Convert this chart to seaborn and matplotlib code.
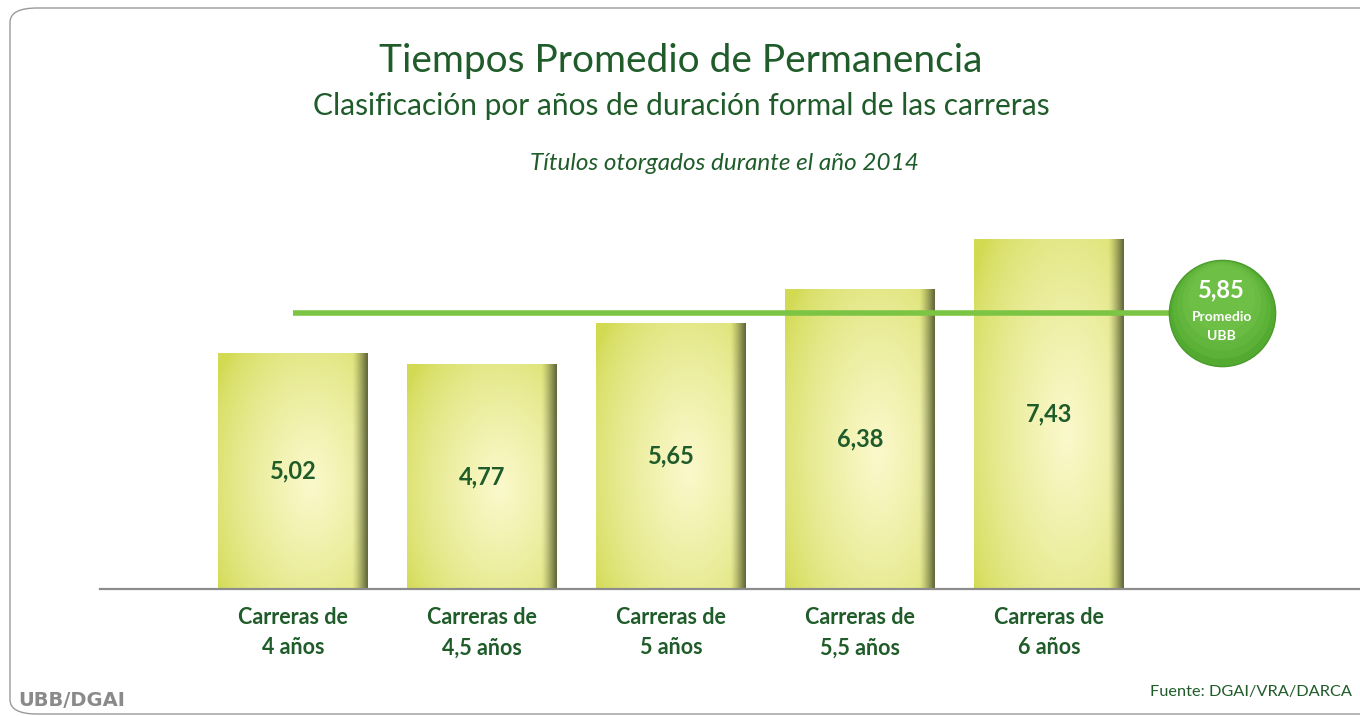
import numpy as np
import pandas as pd
import seaborn as sns
import matplotlib.pyplot as plt
from matplotlib.patches import FancyBboxPatch
from matplotlib.colors import to_rgb

sns.set_theme(style="white")
plt.rcParams['font.family'] = ['Lato', 'DejaVu Sans']

categorias = ["Carreras de\n4 años", "Carreras de\n4,5 años", "Carreras de\n5 años",
              "Carreras de\n5,5 años", "Carreras de\n6 años"]
valores = [5.02, 4.77, 5.65, 6.38, 7.43]
etiquetas = ["5,02", "4,77", "5,65", "6,38", "7,43"]
promedio = 5.85
promedio_txt = "5,85"

VERDE_TXT = '#1f5c2a'
VERDE_LINEA = '#7cc544'
VERDE_BURBUJA = '#53aa30'

df = pd.DataFrame({'cat': categorias, 'val': valores})

fig = plt.figure(figsize=(13.6, 7.16), dpi=100)
fig.patch.set_facecolor('white')

# rounded slide frame
frame = FancyBboxPatch((10 / 1360, 2 / 716), 1.05, 1 - 10 / 716,
                       boxstyle="round,pad=0,rounding_size=0.02",
                       transform=fig.transFigure, facecolor='none',
                       edgecolor='#9a9a9a', linewidth=1.0)
fig.patches.append(frame)

ax = fig.add_axes([100 / 1360, 1 - 589 / 716, 1260 / 1360, 389 / 716])
ax.set_facecolor('none')

sns.barplot(data=df, x='cat', y='val', color='#e4e88a', width=0.79,
            edgecolor='none', ax=ax)

ax.set_xlim(-1.021, 5.646)
ax.set_ylim(0, 8.26)

# gradient fill for each bar
ny, nx = 120, 80
xx, yy = np.meshgrid(np.linspace(0, 1, nx), np.linspace(0, 1, ny))
dark = np.array(to_rgb('#d2da52'))
light = np.array(to_rgb('#fbf9cc'))
shade = np.array(to_rgb('#656b3c'))
d = np.sqrt(((xx - 0.62) / 0.75) ** 2 + ((yy - 0.45) / 0.8) ** 2)
w = np.clip(1 - d, 0, 1) ** 0.7
img = dark[None, None, :] * (1 - w[..., None]) + light[None, None, :] * w[..., None]
s = np.clip((xx - 0.90) / 0.10, 0, 1) ** 1.3
img = img * (1 - s[..., None]) + shade[None, None, :] * s[..., None]

for p in ax.patches:
    x0, y0 = p.get_x(), p.get_y()
    x1, y1 = x0 + p.get_width(), y0 + p.get_height()
    im = ax.imshow(img, extent=[x0, x1, y1, y0], aspect='auto', zorder=2,
                   interpolation='bilinear')
    im.set_clip_path(p)

# value labels
for i, (v, t) in enumerate(zip(valores, etiquetas)):
    ax.text(i, v / 2, t, ha='center', va='center', fontsize=17,
            fontweight='bold', color=VERDE_TXT, zorder=5)

# average line and bubble
bx = 4.915
ax.plot([0, bx], [promedio, promedio], color=VERDE_LINEA, lw=4, zorder=4,
        solid_capstyle='butt', clip_on=False)
ax.scatter([bx], [promedio], s=5850, color=VERDE_BURBUJA, edgecolor='#4a9a2b',
           linewidth=1, zorder=6, clip_on=False)
# soft highlight towards the top of the bubble
for k, (sz, off) in enumerate([(5000, 0.08), (4100, 0.16), (3200, 0.24), (2300, 0.32)]):
    ax.scatter([bx], [promedio + off], s=sz, color='#86d25a', alpha=0.18,
               edgecolor='none', zorder=6, clip_on=False)
ax.text(bx, promedio + 0.5, promedio_txt, ha='center', va='center', fontsize=17,
        fontweight='bold', color='white', zorder=7)
ax.text(bx, promedio - 0.08, "Promedio", ha='center', va='center', fontsize=10,
        fontweight='bold', color='white', zorder=7)
ax.text(bx, promedio - 0.47, "UBB", ha='center', va='center', fontsize=10,
        fontweight='bold', color='white', zorder=7)

# axes styling
for sp in ['top', 'right', 'left']:
    ax.spines[sp].set_visible(False)
ax.spines['bottom'].set_color('#8c8c8c')
ax.spines['bottom'].set_linewidth(1.6)
ax.set_yticks([])
ax.set_xlabel('')
ax.set_ylabel('')
ax.tick_params(axis='x', length=0, pad=13)
for lbl in ax.get_xticklabels():
    lbl.set_fontsize(15.5)
    lbl.set_fontweight('bold')
    lbl.set_color(VERDE_TXT)
    lbl.set_linespacing(1.55)
ax.grid(False)

# titles
fig.text(681 / 1360, 1 - 61 / 716, "Tiempos Promedio de Permanencia", ha='center',
         va='center', fontsize=28, color=VERDE_TXT)
fig.text(681 / 1360, 1 - 106 / 716, "Clasificación por años de duración formal de las carreras",
         ha='center', va='center', fontsize=21.5, color=VERDE_TXT)
fig.text(724 / 1360, 1 - 164 / 716, "Títulos otorgados durante el año 2014", ha='center',
         va='center', fontsize=17.5, style='italic', color=VERDE_TXT)

# footer
fig.text(18 / 1360, 1 - 700 / 716, "UBB/DGAI", ha='left', va='center', fontsize=14,
         fontweight='bold', color='#8a8a8a', family='DejaVu Sans')
fig.text(1352 / 1360, 1 - 692 / 716, "Fuente: DGAI/VRA/DARCA", ha='right', va='center',
         fontsize=11.8, color=VERDE_TXT)

fig.savefig('out.png', dpi=100, facecolor='white')
